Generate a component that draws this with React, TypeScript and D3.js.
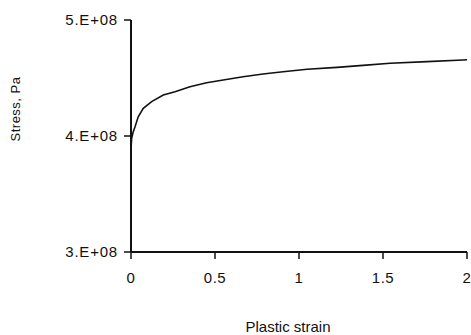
import React from "react";
import * as d3 from "d3";

const strain = [0, 0.004, 0.012, 0.024, 0.043, 0.073, 0.123, 0.192, 0.262, 0.351, 0.45, 0.549, 0.667, 0.786, 0.905, 1.048, 1.226, 1.381, 1.542, 1.762, 1.976, 2.0];
const stress = [3.89e8, 3.98e8, 4.03e8, 4.08e8, 4.166e8, 4.239e8, 4.296e8, 4.353e8, 4.382e8, 4.425e8, 4.459e8, 4.483e8, 4.511e8, 4.534e8, 4.554e8, 4.575e8, 4.592e8, 4.609e8, 4.627e8, 4.641e8, 4.655e8, 4.657e8];
const xTicks = [0, 0.5, 1, 1.5, 2];
const xTickLabels = ["0", "0.5", "1", "1.5", "2"];
const yTicks = [3e8, 4e8, 5e8];
const yTickLabels = ["3.E+08", "4.E+08", "5.E+08"];
const xTitle = "Plastic strain";
const yTitle = "Stress, Pa";

export default function App() {
  const W = 471, H = 335;
  const x = d3.scaleLinear().domain([0, 2]).range([131, 467]);
  const y = d3.scaleLinear().domain([3e8, 5e8]).range([252, 20]);
  const pts = strain.map((s, i) => [s, stress[i]] as [number, number]);
  const line = d3.line<[number, number]>().x(d => x(d[0])).y(d => y(d[1]));
  const font = "'Liberation Sans', Arial, sans-serif";
  return (
    <svg width={W} height={H} style={{ position: "fixed", left: 0, top: 0, background: "#fff" }}>
      <rect width={W} height={H} fill="#fff" />
      <line x1={x(0)} x2={x(0)} y1={y(5e8)} y2={y(3e8)} stroke="#111" strokeWidth={2} />
      <line x1={x(0)} x2={x(2)} y1={y(3e8)} y2={y(3e8)} stroke="#111" strokeWidth={2} />
      {yTicks.map((t, i) => (
        <g key={"y" + i}>
          <line x1={x(0) - 7} x2={x(0)} y1={y(t)} y2={y(t)} stroke="#111" strokeWidth={1.5} />
          <text x={118} y={y(t)} dy="0.36em" textAnchor="end" fontFamily={font} fontSize={15} letterSpacing={0.8} fill="#111">{yTickLabels[i]}</text>
        </g>
      ))}
      {xTicks.map((t, i) => (
        <g key={"x" + i}>
          <line x1={x(t)} x2={x(t)} y1={y(3e8)} y2={y(3e8) + 7} stroke="#111" strokeWidth={1.5} />
          <text x={x(t)} y={283} textAnchor="middle" fontFamily={font} fontSize={15} letterSpacing={0.5} fill="#111">{xTickLabels[i]}</text>
        </g>
      ))}
      <path d={line(pts) || ""} fill="none" stroke="#111" strokeWidth={1.6} />
      <text x={288} y={332} textAnchor="middle" fontFamily={font} fontSize={15} fill="#111">{xTitle}</text>
      <text transform={`translate(20,109) rotate(-90)`} textAnchor="middle" fontFamily={font} fontSize={13} letterSpacing={0.5} fill="#111">{yTitle}</text>
    </svg>
  );
}
